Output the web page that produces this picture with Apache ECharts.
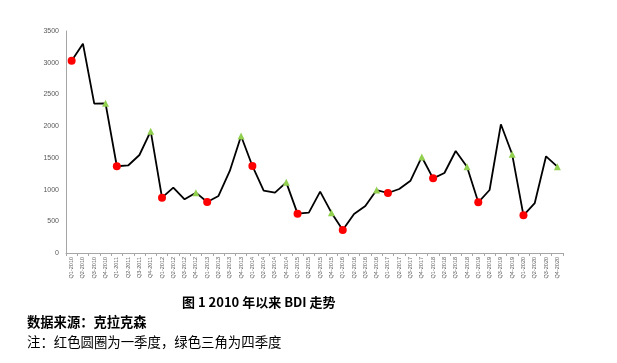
<!DOCTYPE html>
<html>
<head>
<meta charset="utf-8">
<script src="https://cdn.jsdelivr.net/npm/echarts@6/dist/echarts.min.js"></script>
<style>
html,body{margin:0;padding:0;background:#fff;}
#chart{width:617px;height:363px;}
</style>
</head>
<body>
<div id="chart"></div>
<script>
const quarters = [
 'Q1-2010','Q2-2010','Q3-2010','Q4-2010',
 'Q1-2011','Q2-2011','Q3-2011','Q4-2011',
 'Q1-2012','Q2-2012','Q3-2012','Q4-2012',
 'Q1-2013','Q2-2013','Q3-2013','Q4-2013',
 'Q1-2014','Q2-2014','Q3-2014','Q4-2014',
 'Q1-2015','Q2-2015','Q3-2015','Q4-2015',
 'Q1-2016','Q2-2016','Q3-2016','Q4-2016',
 'Q1-2017','Q2-2017','Q3-2017','Q4-2017',
 'Q1-2018','Q2-2018','Q3-2018','Q4-2018',
 'Q1-2019','Q2-2019','Q3-2019','Q4-2019',
 'Q1-2020','Q2-2020','Q3-2020','Q4-2020'
];
const bdi = [
 3030, 3300, 2354, 2360,
 1368, 1380, 1545, 1920,
 872, 1030, 846, 951,
 804, 899, 1293, 1845,
 1372, 982, 951, 1114,
 620, 636, 967, 636,
 363, 615, 741, 993,
 946, 1009, 1140, 1514,
 1177, 1261, 1608, 1361,
 799, 993, 2029, 1556,
 594, 788, 1524, 1361
];
const yTicks = [0, 500, 1000, 1500, 2000, 2500, 3000, 3500];
const caption = '图 1 2010 年以来 BDI 走势';
const sourceText = '数据来源：克拉克森';
const noteText = '注：红色圆圈为一季度，绿色三角为四季度';

const data = bdi.map((v, i) => {
  const q = quarters[i].slice(0, 2);
  if (q === 'Q1') return {value: v, symbol: 'circle', symbolSize: 8, itemStyle: {color: '#ff0000'}};
  if (q === 'Q4') return {value: v, symbol: 'triangle', symbolSize: 7, itemStyle: {color: '#92d050'}};
  return {value: v, symbol: 'none'};
});

const chart = echarts.init(document.getElementById('chart'), null, {renderer: 'canvas'});
chart.setOption({
  animation: false,
  backgroundColor: '#ffffff',
  grid: {left: 66, right: 54, top: 31, bottom: 110, containLabel: false},
  xAxis: {
    type: 'category',
    data: quarters,
    boundaryGap: true,
    axisLine: {lineStyle: {color: '#a6a6a6', width: 1}},
    axisTick: {show: true, length: 3, lineStyle: {color: '#a6a6a6'}},
    axisLabel: {interval: 0, rotate: 90, fontSize: 5.5, color: '#595959', margin: 4, fontFamily: 'Liberation Sans'}
  },
  yAxis: {
    type: 'value',
    min: yTicks[0],
    max: yTicks[yTicks.length - 1],
    interval: 500,
    splitLine: {show: false},
    axisLine: {show: true, lineStyle: {color: '#a6a6a6', width: 1}},
    axisTick: {show: false},
    axisLabel: {fontSize: 7, color: '#595959', margin: 7, fontFamily: 'Liberation Sans', formatter: v => String(v)}
  },
  series: [{
    type: 'line',
    data: data,
    showAllSymbol: true,
    lineStyle: {color: '#000000', width: 1.8},
    itemStyle: {color: '#000000'},
    z: 2
  }],
  graphic: [
    {type: 'text', x: 182, y: 302, style: {text: caption, fontSize: 13, fontFamily: 'Noto Sans CJK SC', fontWeight: 'bold', fill: '#000', verticalAlign: 'middle'}},
    {type: 'text', x: 27, y: 322, style: {text: sourceText, fontSize: 13.3, fontFamily: 'Noto Sans CJK SC', fontWeight: 'bold', fill: '#000', verticalAlign: 'middle'}},
    {type: 'text', x: 27, y: 342, style: {text: noteText, fontSize: 13.4, fontFamily: 'Noto Sans CJK SC', fill: '#000', verticalAlign: 'middle'}}
  ]
});
</script>
</body>
</html>
